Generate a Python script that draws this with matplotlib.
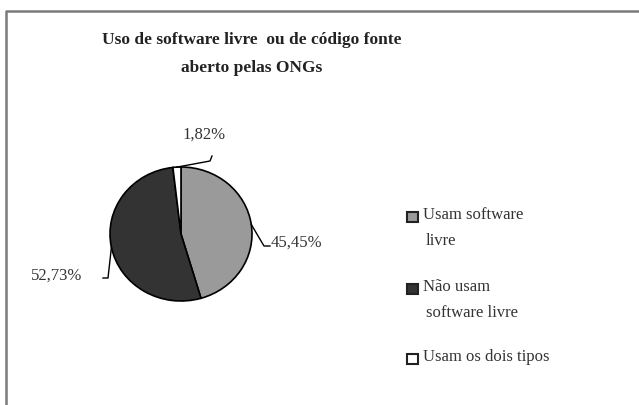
import numpy as np
import matplotlib.pyplot as plt
from matplotlib.lines import Line2D
from matplotlib.patches import Rectangle

# dados
categorias = ['Usam software\nlivre', 'Não usam\nsoftware livre', 'Usam os dois tipos']
valores = [45.45, 52.73, 1.82]
rotulos = ['45,45%', '52,73%', '1,82%']
cores = ['#9a9a9a', '#333333', '#ffffff']

W, H = 639, 406
plt.rcParams['font.family'] = ['Liberation Serif', 'DejaVu Serif']

fig = plt.figure(figsize=(W / 100, H / 100), dpi=100)


def px(x, y):
    # pixel (de cima) -> fracao da figura
    return x / W, 1 - y / H


# moldura (so aparecem a esquerda e em cima)
fig.add_artist(Line2D([6 / W, 6 / W, 1.0], [0.0, 1 - 12 / H, 1 - 12 / H],
                      transform=fig.transFigure, color='#7a7a7a', lw=1.8))

# titulo
fig.text(*px(252, 40), 'Uso de software livre  ou de código fonte', ha='center', va='center',
         fontsize=12.5, fontweight='bold', color='#222222')
fig.text(*px(252, 68), 'aberto pelas ONGs', ha='center', va='center',
         fontsize=12.5, fontweight='bold', color='#222222')

# pizza
ax = fig.add_axes([110 / W, (H - 302) / H, 142 / W, 134 / H])
wedges, _ = ax.pie(valores, colors=cores, startangle=90, counterclock=False,
                   wedgeprops=dict(edgecolor='black', linewidth=1.2))
ax.set_aspect('auto')
ax.set_xlim(-1, 1)
ax.set_ylim(-1, 1)
ax.axis('off')

# rotulos com linhas de chamada
tx = [(271, 243, 'left'), (82, 276, 'right'), (182, 135, 'left')]
cotovelos = [[(264, 247), (270, 247)],
             [(108, 279), (103, 279)],
             [(210, 162), (212, 157)]]
fig.canvas.draw()
inv = fig.transFigure.inverted()
for w, r, (x, y, ha), cot in zip(wedges, rotulos, tx, cotovelos):
    ang = np.deg2rad((w.theta1 + w.theta2) / 2)
    ancora = inv.transform(ax.transData.transform((np.cos(ang), np.sin(ang))))
    xs = [ancora[0]] + [px(*c)[0] for c in cot]
    ys = [ancora[1]] + [px(*c)[1] for c in cot]
    fig.add_artist(Line2D(xs, ys, transform=fig.transFigure, color='black', lw=1))
    fig.text(*px(x, y), r, ha=ha, va='center', fontsize=12, color='#333333')

# legenda
leg_y = [215, 287, 357]
for cat, cor, y in zip(categorias, cores, leg_y):
    fig.add_artist(Rectangle(px(407, y + 8), 11 / W, 10 / H, transform=fig.transFigure,
                             facecolor=cor, edgecolor='#222222', lw=1.5))
    linhas = cat.split('\n')
    fig.text(*px(423, y), linhas[0], ha='left', va='center', fontsize=12, color='#333333')
    if len(linhas) > 1:
        fig.text(*px(426, y + 26), linhas[1], ha='left', va='center', fontsize=12, color='#333333')

fig.savefig('out.png', dpi=100, facecolor='white')
